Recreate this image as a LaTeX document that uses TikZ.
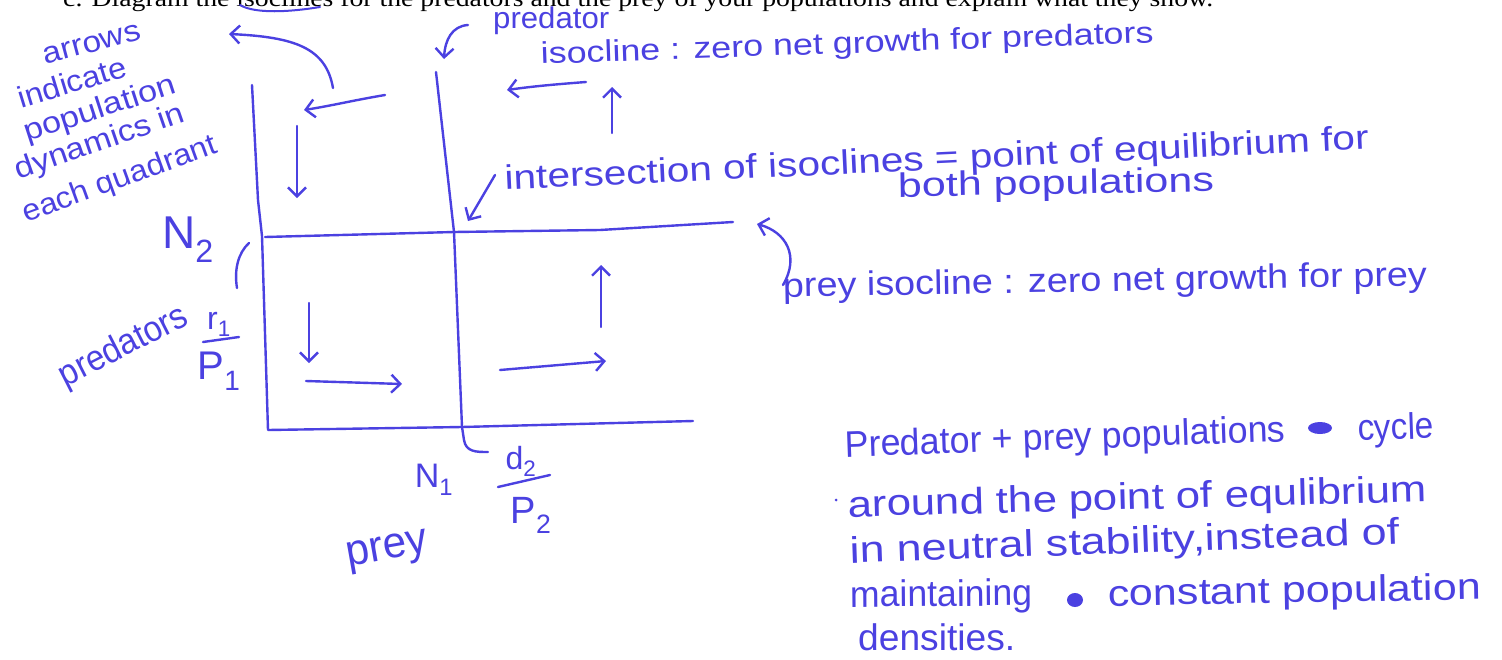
\documentclass[tikz,border=0pt]{standalone}
\usepackage{fontspec}
\setmainfont{Liberation Sans}
\newfontfamily\printfont{Liberation Serif}
\usetikzlibrary{arrows.meta}
\definecolor{pen}{RGB}{75,65,225}
\newcommand\hw[2]{\resizebox{#1pt}{\height}{#2}}
\tikzset{
  ink/.style={draw=pen, line width=2.4pt, line cap=round, line join=round},
  arr/.style={ink, -{Straight Barb[length=9pt,width=18pt]}},
  hand/.style={text=pen, inner sep=0pt, font=\fontsize{34}{38}\selectfont},
  big/.style={hand, font=\fontsize{37}{40}\selectfont},
  small/.style={hand, font=\fontsize{30}{32}\selectfont},
  printed/.style={text=black, inner sep=0pt, font=\printfont\fontsize{24}{28}\selectfont},
}
\begin{document}
\begin{tikzpicture}[x=1pt,y=-1pt]
\useasboundingbox[fill=white] (0,0) rectangle (1502,659);

% printed question (clipped at top)
\node[printed, anchor=base west] (question) at (63,6) {\hw{1150}{c. Diagram the isoclines for the predators and the prey of your populations and explain what they show.}};
\coordinate (ulA) at (240,5); \coordinate (ulB) at (320,7);
\draw[ink, line width=2pt] (ulA) .. controls (255,14) and (290,12) .. (ulB);

% axes
\coordinate (yTop) at (252,85);
\coordinate (origin) at (268,430);
\coordinate (xEnd) at (693,421);
\draw[ink] (yTop) -- (258,200) -- (262,236) -- (origin) -- (462,427) -- (xEnd);

% predator isocline (vertical)
\coordinate (pTop) at (436,72);
\coordinate (eq) at (454,232);
\coordinate (pBot) at (462,427);
\coordinate (hookEnd) at (488,452);
\draw[ink] (pTop) -- (eq) -- (pBot) -- (464,440) .. controls (466,452) and (476,452) .. (hookEnd);

% prey isocline (horizontal)
\coordinate (hLeft) at (265,237);
\coordinate (hRight) at (733,222);
\draw[ink] (hLeft) -- (eq) -- (600,230) -- (hRight);

% axis labels
\node[hand, font=\fontsize{46}{48}\selectfont] (N2) at (188,240) {N\textsubscript{2}};
\node[hand, font=\fontsize{34}{36}\selectfont] (N1) at (434,480) {N\textsubscript{1}};
\node[hand, rotate=27, font=\fontsize{36}{38}\selectfont] (predators) at (124,347) {\hw{140}{predators}};
\node[hand, font=\fontsize{32}{34}\selectfont] (r1) at (219,324) {r\textsubscript{1}};
\node[hand, font=\fontsize{40}{42}\selectfont] (p1) at (219,371) {P\textsubscript{1}};
\coordinate (f1a) at (203,342); \coordinate (f1b) at (239,337);
\draw[ink] (f1a) -- (f1b);
\node[hand, font=\fontsize{32}{34}\selectfont] (d2) at (521,461) {d\textsubscript{2}};
\node[hand, font=\fontsize{38}{40}\selectfont] (p2) at (531,515) {P\textsubscript{2}};
\coordinate (f2a) at (498,487); \coordinate (f2b) at (550,475);
\draw[ink] (f2a) -- (f2b);
\node[hand, rotate=10, font=\fontsize{44}{46}\selectfont] (prey) at (388,552) {\hw{82}{prey}};
\coordinate (brA) at (249,243); \coordinate (brB) at (237,288);
\draw[ink] (brA) .. controls (238,253) and (234,270) .. (brB);

% quadrant arrows
\coordinate (a1s) at (385,95);  \coordinate (a1e) at (304,110);
\draw[arr] (a1s) .. controls (355,100) and (330,106) .. (a1e);
\coordinate (a2s) at (297,126); \coordinate (a2e) at (297,198);
\draw[arr] (a2s) -- (a2e);
\coordinate (a3s) at (586,82);  \coordinate (a3e) at (507,90);
\draw[arr] (a3s) .. controls (560,84) and (535,86) .. (a3e);
\coordinate (a4s) at (612,133); \coordinate (a4e) at (612,87);
\draw[arr] (a4s) -- (a4e);
\coordinate (a5s) at (309,303); \coordinate (a5e) at (309,363);
\draw[arr] (a5s) -- (a5e);
\coordinate (a6s) at (306,381); \coordinate (a6e) at (402,384);
\draw[arr] (a6s) -- (a6e);
\coordinate (a7s) at (601,327); \coordinate (a7e) at (601,265);
\draw[arr] (a7s) -- (a7e);
\coordinate (a8s) at (500,370); \coordinate (a8e) at (606,361);
\draw[arr] (a8s) -- (a8e);

% annotation: arrows indicate ...
\node[small, rotate=15] (t1) at (92,44) {\hw{100}{arrows}};
\node[small, rotate=17] (t2) at (72,82) {\hw{112}{indicate}};
\node[small, rotate=18] (t3) at (100,110) {\hw{158}{population}};
\node[small, rotate=19] (t4) at (100,143) {\hw{178}{dynamics in}};
\node[small, rotate=20] (t5) at (120,180) {\hw{205}{each quadrant}};
\coordinate (c1s) at (333,88); \coordinate (c1e) at (229,34);
\draw[arr] (c1s) .. controls (326,48) and (295,37) .. (c1e);

% predator isocline label
\node[small, anchor=base west] (t6) at (493,28) {\hw{116}{predator}};
\node[small, anchor=base west, rotate=2] (t7) at (541,64) {\hw{613}{isocline : zero net growth for predators}};
\coordinate (c2s) at (468,25); \coordinate (c2e) at (444,59);
\draw[arr] (c2s) .. controls (452,26) and (445,40) .. (c2e);

% intersection label
\node[hand, anchor=base west, rotate=2.7] (t8) at (505,190) {\hw{865}{intersection of isoclines = point of equilibrium for}};
\node[hand, anchor=base west, rotate=1] (t9) at (898,197) {\hw{316}{both populations}};
\coordinate (c3s) at (495,175); \coordinate (c3e) at (468,221);
\draw[arr] (c3s) -- (c3e);

% prey isocline label
\node[hand, anchor=base west, rotate=1] (t10) at (783,297) {\hw{644}{prey isocline : zero net growth for prey}};
\coordinate (c4s) at (783,285); \coordinate (c4e) at (757,224);
\draw[arr] (c4s) .. controls (800,256) and (786,232) .. (c4e);

% paragraph
\node[big, anchor=base west, rotate=2] (l1) at (845,457) {\hw{441}{Predator + prey populations}};
\fill[pen] (1320,428) ellipse (12pt and 6pt);
\node[big, anchor=base west, rotate=2] (l1b) at (1358,441) {\hw{76}{cycle}};
\fill[pen] (836,500) circle (1.5pt);
\node[big, anchor=base west, rotate=1.5] (l2) at (848,517) {\hw{579}{around the point of equlibrium}};
\node[big, anchor=base west, rotate=2] (l3) at (850,563) {\hw{550}{in neutral stability,instead of}};
\node[big, anchor=base west, rotate=0.5] (l4) at (850,607) {\hw{182}{maintaining}};
\fill[pen] (1075,600) ellipse (8pt and 7pt);
\node[big, anchor=base west, rotate=1] (l4b) at (1108,606) {\hw{373}{constant population}};
\node[big, anchor=base west] (l5) at (858,650) {\hw{157}{densities.}};
\end{tikzpicture}
\end{document}
